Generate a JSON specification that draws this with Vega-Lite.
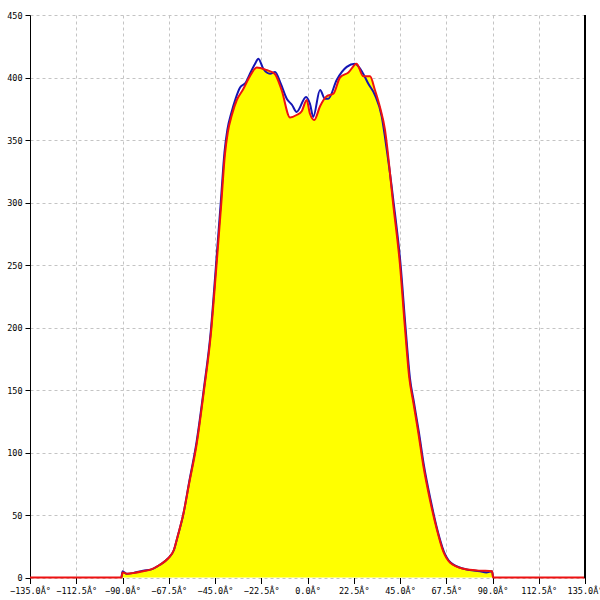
{
  "$schema": "https://vega.github.io/schema/vega-lite/v6.json",
  "autosize": "none",
  "padding": {"left": 30, "top": 15, "right": 15, "bottom": 22},
  "width": 555,
  "height": 562.5,
  "background": "white",
  "config": {
    "view": {"stroke": null},
    "axis": {
      "labelFont": "DejaVu Sans Mono",
      "labelFontSize": 8.5,
      "labelColor": "black",
      "tickColor": "black",
      "domainColor": "black",
      "gridColor": "#c4c4c4",
      "gridDash": [3, 3],
      "gridWidth": 1,
      "title": null,
      "zindex": 1
    }
  },
  "datasets": {
    "curves": [
      {"series": "blue", "x": -90.5, "y": 0},
      {"series": "blue", "x": -90, "y": 5},
      {"series": "blue", "x": -88, "y": 3},
      {"series": "blue", "x": -85, "y": 3.5},
      {"series": "blue", "x": -80, "y": 5.5},
      {"series": "blue", "x": -76, "y": 6.5},
      {"series": "blue", "x": -72, "y": 10},
      {"series": "blue", "x": -68, "y": 15},
      {"series": "blue", "x": -65, "y": 22},
      {"series": "blue", "x": -63, "y": 34},
      {"series": "blue", "x": -60.5, "y": 50},
      {"series": "blue", "x": -57.5, "y": 77},
      {"series": "blue", "x": -54, "y": 108},
      {"series": "blue", "x": -50.5, "y": 150},
      {"series": "blue", "x": -47, "y": 198},
      {"series": "blue", "x": -44.6, "y": 248},
      {"series": "blue", "x": -42.2, "y": 300},
      {"series": "blue", "x": -40.4, "y": 340},
      {"series": "blue", "x": -39, "y": 358},
      {"series": "blue", "x": -37, "y": 372},
      {"series": "blue", "x": -35, "y": 383},
      {"series": "blue", "x": -32.8, "y": 392},
      {"series": "blue", "x": -30, "y": 396},
      {"series": "blue", "x": -28, "y": 403},
      {"series": "blue", "x": -25.5, "y": 411},
      {"series": "blue", "x": -23.9, "y": 415},
      {"series": "blue", "x": -21.5, "y": 407},
      {"series": "blue", "x": -18.2, "y": 403},
      {"series": "blue", "x": -15.8, "y": 404.5},
      {"series": "blue", "x": -13, "y": 395},
      {"series": "blue", "x": -10.1, "y": 383},
      {"series": "blue", "x": -7.5, "y": 378},
      {"series": "blue", "x": -5.3, "y": 372.5},
      {"series": "blue", "x": -0.7, "y": 384.5},
      {"series": "blue", "x": 1.2, "y": 379},
      {"series": "blue", "x": 2.8, "y": 368.5},
      {"series": "blue", "x": 6.1, "y": 390},
      {"series": "blue", "x": 8.5, "y": 383},
      {"series": "blue", "x": 10.1, "y": 383},
      {"series": "blue", "x": 14.2, "y": 398},
      {"series": "blue", "x": 19.1, "y": 408.5},
      {"series": "blue", "x": 23.1, "y": 411},
      {"series": "blue", "x": 27.1, "y": 403},
      {"series": "blue", "x": 29.6, "y": 395},
      {"series": "blue", "x": 32.8, "y": 386},
      {"series": "blue", "x": 36.1, "y": 369},
      {"series": "blue", "x": 37.9, "y": 350},
      {"series": "blue", "x": 41.9, "y": 300},
      {"series": "blue", "x": 45.3, "y": 250},
      {"series": "blue", "x": 47.7, "y": 200},
      {"series": "blue", "x": 49.8, "y": 160},
      {"series": "blue", "x": 51.8, "y": 140},
      {"series": "blue", "x": 54.3, "y": 115},
      {"series": "blue", "x": 56.6, "y": 90},
      {"series": "blue", "x": 59.9, "y": 62},
      {"series": "blue", "x": 63.2, "y": 38},
      {"series": "blue", "x": 66.3, "y": 21},
      {"series": "blue", "x": 69.6, "y": 12},
      {"series": "blue", "x": 76, "y": 7},
      {"series": "blue", "x": 84, "y": 5},
      {"series": "blue", "x": 87, "y": 4},
      {"series": "blue", "x": 89.8, "y": 5},
      {"series": "blue", "x": 90.3, "y": 0},
      {"series": "red", "x": -135, "y": 0},
      {"series": "red", "x": -90.5, "y": 0},
      {"series": "red", "x": -90, "y": 4},
      {"series": "red", "x": -87.5, "y": 3},
      {"series": "red", "x": -85, "y": 3.5},
      {"series": "red", "x": -80, "y": 5},
      {"series": "red", "x": -76, "y": 6.5},
      {"series": "red", "x": -72, "y": 10},
      {"series": "red", "x": -68, "y": 15},
      {"series": "red", "x": -65, "y": 22},
      {"series": "red", "x": -63, "y": 34},
      {"series": "red", "x": -60.5, "y": 50},
      {"series": "red", "x": -57.5, "y": 76},
      {"series": "red", "x": -54, "y": 106},
      {"series": "red", "x": -50.5, "y": 148},
      {"series": "red", "x": -47, "y": 195},
      {"series": "red", "x": -44.5, "y": 245},
      {"series": "red", "x": -42, "y": 298},
      {"series": "red", "x": -40.2, "y": 338},
      {"series": "red", "x": -38.8, "y": 356},
      {"series": "red", "x": -36.8, "y": 370},
      {"series": "red", "x": -34.4, "y": 382},
      {"series": "red", "x": -31.5, "y": 390},
      {"series": "red", "x": -28, "y": 401},
      {"series": "red", "x": -24.7, "y": 408},
      {"series": "red", "x": -20, "y": 406},
      {"series": "red", "x": -16, "y": 403},
      {"series": "red", "x": -12.6, "y": 390},
      {"series": "red", "x": -8.5, "y": 368},
      {"series": "red", "x": -5.3, "y": 370},
      {"series": "red", "x": -2.8, "y": 373},
      {"series": "red", "x": -0.4, "y": 382},
      {"series": "red", "x": 1.2, "y": 371},
      {"series": "red", "x": 3.3, "y": 366},
      {"series": "red", "x": 6.1, "y": 377},
      {"series": "red", "x": 9.3, "y": 385},
      {"series": "red", "x": 12.6, "y": 387},
      {"series": "red", "x": 15.8, "y": 400},
      {"series": "red", "x": 19.9, "y": 404},
      {"series": "red", "x": 23.9, "y": 411},
      {"series": "red", "x": 27.1, "y": 401},
      {"series": "red", "x": 30.4, "y": 401},
      {"series": "red", "x": 32.8, "y": 390},
      {"series": "red", "x": 35.3, "y": 376},
      {"series": "red", "x": 37.7, "y": 358},
      {"series": "red", "x": 38.5, "y": 348},
      {"series": "red", "x": 41.6, "y": 300},
      {"series": "red", "x": 45, "y": 250},
      {"series": "red", "x": 47.4, "y": 200},
      {"series": "red", "x": 49.5, "y": 160},
      {"series": "red", "x": 51.5, "y": 140},
      {"series": "red", "x": 54, "y": 115},
      {"series": "red", "x": 56.3, "y": 90},
      {"series": "red", "x": 59.6, "y": 62},
      {"series": "red", "x": 63, "y": 38},
      {"series": "red", "x": 66, "y": 21},
      {"series": "red", "x": 69.3, "y": 12},
      {"series": "red", "x": 75.8, "y": 7},
      {"series": "red", "x": 84, "y": 5.5},
      {"series": "red", "x": 89.8, "y": 5},
      {"series": "red", "x": 90.3, "y": 0},
      {"series": "red", "x": 135, "y": 0}
    ]
  },
  "data": {"name": "curves"},
  "encoding": {
    "x": {
      "field": "x",
      "type": "quantitative",
      "scale": {"domain": [-135, 135], "nice": false, "zero": false},
      "axis": {
        "values": [-135, -112.5, -90, -67.5, -45, -22.5, 0, 22.5, 45, 67.5, 90, 112.5, 135],
        "labelExpr": "format(datum.value, '.1f') + 'Â°'",
        "domain": false,
        "tickSize": 6,
        "labelPadding": 3,
        "labelFlush": false,
        "labelOverlap": false
      }
    },
    "y": {
      "field": "y",
      "type": "quantitative",
      "scale": {"domain": [0, 450], "nice": false},
      "axis": {
        "values": [0, 50, 100, 150, 200, 250, 300, 350, 400, 450],
        "tickSize": 5,
        "labelPadding": 3,
        "labelFlush": false,
        "labelOverlap": false
      }
    }
  },
  "layer": [
    {
      "transform": [{"filter": "datum.series === 'red'"}],
      "mark": {"type": "area", "color": "#ffff00", "opacity": 1, "interpolate": "monotone"}
    },
    {
      "transform": [{"filter": "datum.series === 'blue'"}],
      "mark": {"type": "line", "color": "#1414b4", "strokeWidth": 2, "interpolate": "monotone"}
    },
    {
      "transform": [{"filter": "datum.series === 'red'"}],
      "mark": {"type": "line", "color": "#ee1111", "strokeWidth": 2, "interpolate": "monotone"}
    },
    {
      "mark": {"type": "rule", "color": "black", "strokeWidth": 1},
      "encoding": {"x": {"datum": 135}, "y": null}
    }
  ]
}
